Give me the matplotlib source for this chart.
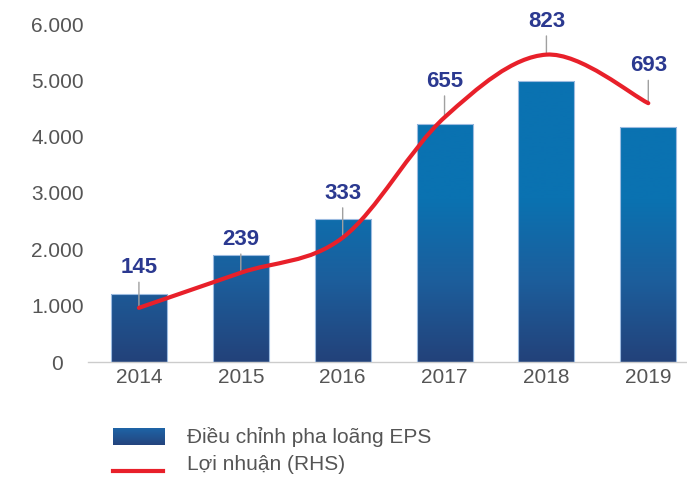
import numpy as np
import matplotlib
matplotlib.use("Agg")
import matplotlib.pyplot as plt
from matplotlib.colors import LinearSegmentedColormap
from matplotlib.path import Path
from matplotlib.patches import PathPatch
from matplotlib.lines import Line2D

plt.rcParams['font.family'] = ['Liberation Sans', 'DejaVu Sans']

# data
years = ["2014", "2015", "2016", "2017", "2018", "2019"]
eps = [1210, 1900, 2530, 4220, 4990, 4170]          # Điều chỉnh pha loãng EPS (LHS)
profit = [145, 239, 333, 655, 823, 693]             # Lợi nhuận (RHS)
yticks = [0, 1000, 2000, 3000, 4000, 5000, 6000]
ytick_labels = ["0", "1.000", "2.000", "3.000", "4.000", "5.000", "6.000"]

# label offsets above each point (points)
label_dy = [29, 24, 32, 26, 24, 27]

text_gray = '#555555'
navy = '#2B3990'
red = '#E8202A'
cmap = LinearSegmentedColormap.from_list('bars', ['#23427A', '#1C5E9C', '#0A72B1'])

fig = plt.figure(figsize=(6.87, 4.79), dpi=100)
ax = fig.add_axes([88/687, 1-362/479, (687-88)/687, 338/479])
x = np.arange(len(years))

# gradient bars: image clipped to each bar
bars = ax.bar(x, eps, width=0.55, facecolor='none', edgecolor='#9cbbe0', linewidth=0.8, zorder=3)
grad = np.clip(np.linspace(0, 6000, 256) / 2900, 0, 1).reshape(-1, 1)
for b in bars:
    im = ax.imshow(grad, cmap=cmap, origin='lower', aspect='auto',
                   extent=(-0.5, 5.5, 0, 6000), zorder=2, vmin=0, vmax=1)
    im.set_clip_path(b)

ax.set_xlim(-0.5, 5.38)
ax.set_ylim(0, 6000)
ax.set_xticks(x)
ax.set_xticklabels(years)
ax.set_yticks(yticks)
ax.set_yticklabels(ytick_labels)
for lab in ax.get_yticklabels():
    lab.set_horizontalalignment('center')
ax.tick_params(axis='y', length=0, pad=22, labelsize=15, labelcolor=text_gray)
ax.tick_params(axis='x', length=0, pad=4, labelsize=15, labelcolor=text_gray)
for s in ['top', 'right', 'left']:
    ax.spines[s].set_visible(False)
ax.spines['bottom'].set_color('#cccccc')
ax.spines['bottom'].set_linewidth(1)

# profit line on hidden right axis, smoothed with Catmull-Rom bezier
ax2 = ax.twinx()
ax2.set_ylim(0, 905)
ax2.set_yticks([])
for s in ax2.spines.values():
    s.set_visible(False)

px = x.astype(float)
py = np.array(profit, dtype=float)
verts = [(px[0], py[0])]
codes = [Path.MOVETO]
n = len(px)
for i in range(n - 1):
    p0 = np.array([px[max(i-1, 0)], py[max(i-1, 0)]])
    p1 = np.array([px[i], py[i]])
    p2 = np.array([px[i+1], py[i+1]])
    p3 = np.array([px[min(i+2, n-1)], py[min(i+2, n-1)]])
    c1 = p1 + (p2 - p0) / 6
    c2 = p2 - (p3 - p1) / 6
    verts += [tuple(c1), tuple(c2), tuple(p2)]
    codes += [Path.CURVE4] * 3
ax2.add_patch(PathPatch(Path(verts, codes), facecolor='none', edgecolor=red,
                        linewidth=3, capstyle='round', zorder=4))

for xi, v, dy in zip(x, profit, label_dy):
    ax2.annotate(str(v), xy=(xi, v), xytext=(0, dy), textcoords='offset points',
                 ha='center', va='center', fontsize=16, fontweight='bold', color=navy,
                 annotation_clip=False,
                 arrowprops=dict(arrowstyle='-', color='#a0a0a0', lw=1, shrinkA=1, shrinkB=0))

# legend drawn by hand
sw = fig.add_axes([113/687, 1-445/479, 52/687, 17/479])
sw.imshow(np.linspace(0, 1, 32).reshape(-1, 1), cmap=LinearSegmentedColormap.from_list('sw', ['#24447E', '#1E64A6']),
          origin='lower', aspect='auto')
sw.axis('off')
fig.text(187/687, 1-437/479, "Điều chỉnh pha loãng EPS", ha='left', va='center',
         fontsize=15, color=text_gray)
fig.add_artist(Line2D([113/687, 163/687], [1-471/479, 1-471/479], color=red, lw=3,
                      transform=fig.transFigure))
fig.text(187/687, 1-465/479, "Lợi nhuận (RHS)", ha='left', va='center',
         fontsize=15, color=text_gray)

fig.savefig("out.png", dpi=100)
